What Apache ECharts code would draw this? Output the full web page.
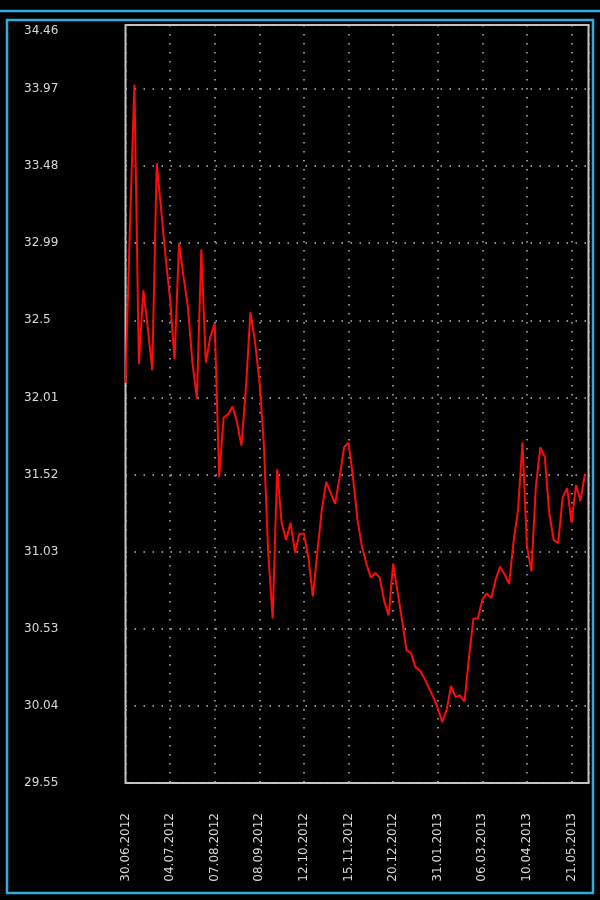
<!DOCTYPE html>
<html>
<head>
<meta charset="utf-8">
<style>
  html, body { margin: 0; padding: 0; background: #000; }
  #chart { width: 600px; height: 900px; }
</style>
<script src="https://cdn.jsdelivr.net/npm/echarts@6/dist/echarts.min.js"></script>
</head>
<body>
<div id="chart"></div>
<script>
// Tick labels of the date axis (one every 10 points)
const xTickLabels = ['30.06.2012','04.07.2012','07.08.2012','08.09.2012','12.10.2012',
  '15.11.2012','20.12.2012','31.01.2013','06.03.2013','10.04.2013','21.05.2013'];
// Tick labels of the value axis
const yTickLabels = ['29.55','30.04','30.53','31.03','31.52','32.01','32.5','32.99','33.48','33.97','34.46'];
// Series values (one point per step along the date axis)
const values = [
  32.10, 33.10, 34.00, 32.22, 32.69, 32.45, 32.18, 33.50, 33.20, 32.90,
  32.63, 32.25, 32.99, 32.78, 32.58, 32.23, 32.00, 32.95, 32.23, 32.39,
  32.48, 31.50, 31.88, 31.90, 31.95, 31.85, 31.70, 32.07, 32.55, 32.37,
  32.12, 31.72, 31.02, 30.60, 31.55, 31.21, 31.10, 31.21, 31.02, 31.14,
  31.14, 30.99, 30.74, 31.02, 31.29, 31.47, 31.40, 31.33, 31.50, 31.69,
  31.72, 31.50, 31.23, 31.06, 30.95, 30.86, 30.89, 30.86, 30.71, 30.62,
  30.95, 30.77, 30.59, 30.40, 30.38, 30.29, 30.27, 30.22, 30.16, 30.10,
  30.03, 29.94, 30.02, 30.17, 30.10, 30.11, 30.07, 30.35, 30.60, 30.60,
  30.72, 30.76, 30.73, 30.85, 30.93, 30.88, 30.82, 31.09, 31.29, 31.72,
  31.06, 30.90, 31.44, 31.69, 31.63, 31.27, 31.10, 31.08, 31.37, 31.43,
  31.21, 31.45, 31.35, 31.52
];

const Y_MIN = 29.5525, Y_STEP = 0.491, Y_MAX = 34.379;
const X_STEP = 10, X_MAX = 103.8;

const chart = echarts.init(document.getElementById('chart'), null, { renderer: 'canvas' });
const labelColor = '#d8d8d8';
const dotted = { color: '#b8b8b8', width: 1.5, type: [1.5, 7.5] };

chart.setOption({
  backgroundColor: '#000',
  animation: false,
  grid: {
    left: 125.5, right: 11.5, top: 25, bottom: 117,
    show: true, backgroundColor: '#000', borderColor: '#c4c4c4', borderWidth: 2
  },
  xAxis: {
    type: 'value', min: 0, max: X_MAX, interval: X_STEP,
    axisLine: { show: false }, axisTick: { show: false },
    splitLine: { show: true, lineStyle: dotted },
    axisLabel: {
      rotate: 90, margin: 30, color: labelColor,
      fontFamily: 'DejaVu Sans', fontSize: 12,
      formatter: function (v) {
        const k = v / X_STEP;
        return Number.isInteger(k) && xTickLabels[k] ? xTickLabels[k] : '';
      }
    }
  },
  yAxis: {
    type: 'value', min: Y_MIN, max: Y_MAX, interval: Y_STEP,
    axisLine: { show: false }, axisTick: { show: false },
    splitLine: { show: true, lineStyle: dotted },
    axisLabel: {
      align: 'left', margin: 101.5, color: labelColor,
      fontFamily: 'DejaVu Sans', fontSize: 12,
      formatter: function (v) {
        const k = Math.round((v - Y_MIN) / Y_STEP);
        const lbl = yTickLabels[k] || '';
        if (Math.abs(Y_MIN + k * Y_STEP - v) > 0.02) return '{t|' + lbl + '}';
        return lbl;
      },
      rich: { t: { color: labelColor, fontFamily: 'DejaVu Sans', fontSize: 12, padding: [12, 0, 0, 0] } }
    }
  },
  graphic: [
    { type: 'line', shape: { x1: 0, y1: 11, x2: 600, y2: 11 }, style: { stroke: '#33aadd', lineWidth: 2.5 }, z: 100 },
    { type: 'rect', shape: { x: 7, y: 20, width: 586, height: 873 }, style: { fill: 'none', stroke: '#33aadd', lineWidth: 2.5 }, z: 100 }
  ],
  series: [{
    type: 'line',
    data: values.map((v, i) => [i, v]),
    showSymbol: false,
    symbol: 'none',
    lineStyle: { color: '#ff0a0a', width: 2 },
    z: 5
  }]
});
</script>
</body>
</html>
